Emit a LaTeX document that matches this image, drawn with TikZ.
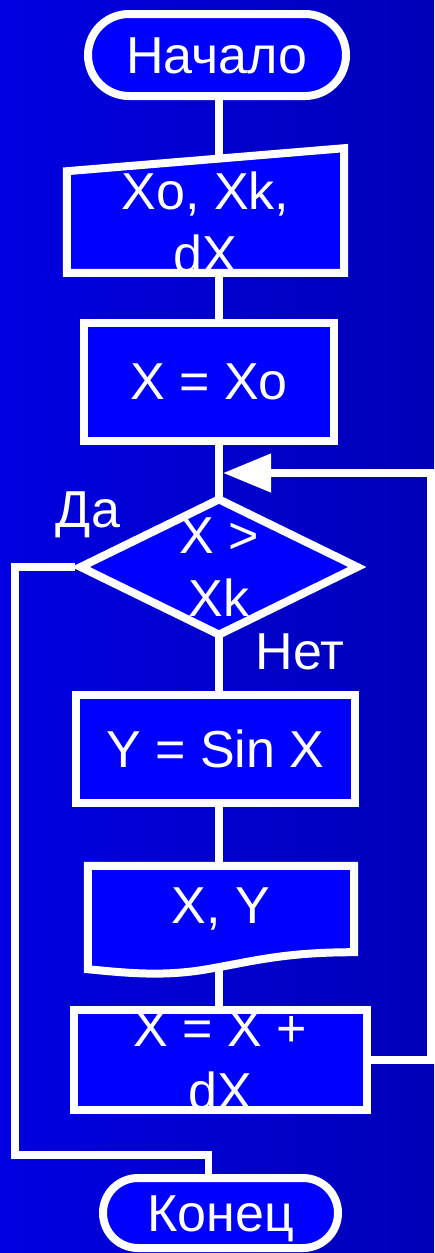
\documentclass[tikz,border=0pt]{standalone}
\usepackage{fontspec}
\setmainfont{Liberation Sans}
\usetikzlibrary{shapes.geometric, arrows.meta}
\definecolor{bgleft}{RGB}{0,0,226}
\definecolor{bgright}{RGB}{0,0,184}
\definecolor{boxblue}{RGB}{0,0,255}
\pgfdeclarelayer{back}
\pgfdeclarelayer{lines}
\pgfdeclarelayer{shapes}
\pgfsetlayers{back,lines,shapes,main}

\begin{document}
\begin{tikzpicture}[x=1pt, y=-1pt,
    txt/.style={text=white, font=\fontsize{52}{63}\selectfont, align=center, inner sep=0pt},
    block/.style={txt, rectangle, draw=white, fill=boxblue, line width=8pt},
    term/.style={block, text height=37pt, text depth=0pt},
    decision/.style={txt, diamond, aspect=2, draw=white, fill=boxblue, line width=8pt},
    outline/.style={draw=white, fill=boxblue, line width=8pt},
    flow/.style={draw=white, line width=7.5pt},
    answer/.style={txt, anchor=base}]
    \useasboundingbox (0,0) rectangle (434,1253);
    % Background
    \begin{pgfonlayer}{back}
        \shade[left color=bgleft, right color=bgright] (0,0) rectangle (434,1253);
    \end{pgfonlayer}

    % Blocks
    \node[term, rounded corners=41pt, minimum width=258pt, minimum height=82pt] (start) at (217,55) {Начало};
    \node[txt, minimum width=277pt, minimum height=96pt] (inp) at (205.5,222) {Xo, Xk,\\dX};
    \node[block, minimum width=250pt, minimum height=118pt] (init) at (209,382) {X = Xo};
    \node[decision, minimum width=280pt, minimum height=137pt] (cond) at (219,567) {X >\\Xk};
    \node[block, minimum width=279pt, minimum height=108pt] (calc) at (215.5,749) {Y = Sin X};
    \node[txt, minimum width=266pt, minimum height=86pt] (out) at (221,909) {X, Y};
    \node[block, minimum width=293pt, minimum height=88pt] (incr) at (220.5,1060) {X = X +\\dX};
    \node[term, rounded corners=35pt, minimum width=235pt, minimum height=70pt] (stop) at (220.5,1213) {Конец};

    % Input and output shapes
    \begin{pgfonlayer}{shapes}
        \path[outline] (inp.south west) -- (inp.north west)
            -- ([yshift=23pt]inp.north east) -- (inp.south east) -- cycle;
        \path[outline] (out.north west) -- (out.north east) -- (out.south east)
            .. controls +(-74,0) and +(49,-8) .. ++(-153,18)
            .. controls +(-40,6) and +(40,4) .. ([yshift=-17pt]out.south west) -- cycle;
    \end{pgfonlayer}

    % Branch labels
    \node[answer] (yes) at (88,527) {Да};
    \node[answer] (no) at (300,669) {Нет};

    % Connectors
    \coordinate (yesL) at (15,1155);
    \coordinate (loopR) at (431,473);
    \begin{pgfonlayer}{lines}
        \foreach \a/\b in {start/inp, inp/init, init/cond, cond/calc, calc/out, out/incr}
            \draw[flow] (cond.center |- \a.center) -- (cond.center |- \b.center);
        \draw[flow] (cond.west) -| (yesL) -| ([xshift=-12pt]stop.north);
        \draw[flow, -{Triangle[length=48pt, width=37pt]}] (incr.east) -| (loopR)
            -- ([xshift=4pt]loopR -| cond.north);
    \end{pgfonlayer}
\end{tikzpicture}
\end{document}
